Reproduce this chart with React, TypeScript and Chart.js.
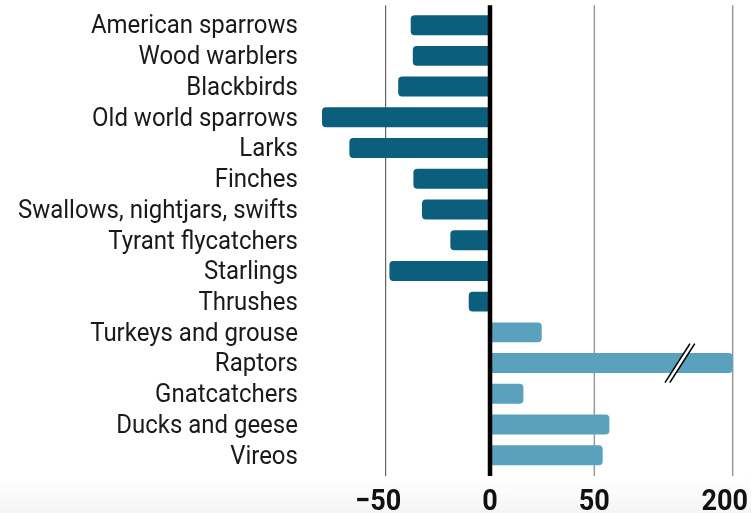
import React, { useEffect, useRef } from "react";
import { Chart, registerables } from "chart.js";

Chart.register(...registerables);

const CATEGORIES = [
  "American sparrows",
  "Wood warblers",
  "Blackbirds",
  "Old world sparrows",
  "Larks",
  "Finches",
  "Swallows, nightjars, swifts",
  "Tyrant flycatchers",
  "Starlings",
  "Thrushes",
  "Turkeys and grouse",
  "Raptors",
  "Gnatcatchers",
  "Ducks and geese",
  "Vireos",
];

const VALUES = [-38, -37, -44, -80.5, -67.4, -36.7, -32.6, -19, -48.2, -10.2, 24.8, 200, 16, 57.2, 54];

const TICK_VALUES = [-50, 0, 50, 200];
const TICK_LABELS = ["\u221250", "0", "50", "200"];

// broken axis: values above BREAK_REAL are compressed so that AXIS_TOP_REAL sits at AXIS_TOP_DISPLAY
const BREAK_REAL = 100;
const AXIS_TOP_REAL = 200;
const AXIS_TOP_DISPLAY = 116.3;
const BREAK_MARK_AT = 91;
const BREAK_CATEGORY = "Raptors";

const NEG_COLOR = "#0b5e7c";
const POS_COLOR = "#59a1bd";

function toAxis(v: number): number {
  if (v <= BREAK_REAL) return v;
  return BREAK_REAL + ((v - BREAK_REAL) * (AXIS_TOP_DISPLAY - BREAK_REAL)) / (AXIS_TOP_REAL - BREAK_REAL);
}

const LABEL_FONT = "25.5px Roboto";
const TICK_FONT = "bold 30px Roboto";
const LABEL_CONDENSE = 0.94;
const TICK_CONDENSE = 0.9;

const decorPlugin = {
  id: "decor",
  beforeDatasetsDraw(chart: any) {
    const { ctx, chartArea, scales } = chart;
    const x = scales.x;
    const top = chartArea.top - 4.5;
    const bottom = chartArea.bottom + 5.5;
    ctx.save();
    TICK_VALUES.forEach((t) => {
      if (t === 0) return;
      const px = x.getPixelForValue(toAxis(t));
      ctx.beginPath();
      ctx.strokeStyle = t < 0 ? "#444444" : "#9a9a9a";
      ctx.lineWidth = t < 0 ? 1 : 1.5;
      ctx.moveTo(px, top);
      ctx.lineTo(px, bottom);
      ctx.stroke();
    });
    ctx.restore();
  },
  afterDatasetsDraw(chart: any) {
    const { ctx, chartArea, scales } = chart;
    const x = scales.x;
    const y = scales.y;
    const top = chartArea.top - 4.5;
    const bottom = chartArea.bottom + 5.5;
    ctx.save();
    // zero line
    const zx = x.getPixelForValue(0);
    ctx.beginPath();
    ctx.strokeStyle = "#000000";
    ctx.lineWidth = 4.5;
    ctx.moveTo(zx, top);
    ctx.lineTo(zx, bottom);
    ctx.stroke();

    // break mark
    const bi = CATEGORIES.indexOf(BREAK_CATEGORY);
    const bx = x.getPixelForValue(BREAK_MARK_AT);
    const by = y.getPixelForValue(bi);
    const dx = 12.5;
    const dy = 19.5;
    const gap = 2.4;
    ctx.beginPath();
    ctx.fillStyle = "#ffffff";
    ctx.moveTo(bx - dx - gap, by + dy);
    ctx.lineTo(bx + dx - gap, by - dy);
    ctx.lineTo(bx + dx + gap, by - dy);
    ctx.lineTo(bx - dx + gap, by + dy);
    ctx.closePath();
    ctx.fill();
    ctx.strokeStyle = "#000000";
    ctx.lineWidth = 1.6;
    [-gap, gap].forEach((g) => {
      ctx.beginPath();
      ctx.moveTo(bx - dx + g, by + dy);
      ctx.lineTo(bx + dx + g, by - dy);
      ctx.stroke();
    });

    // category labels (condensed)
    ctx.fillStyle = "#1a1a1a";
    ctx.font = LABEL_FONT;
    ctx.textAlign = "right";
    ctx.textBaseline = "alphabetic";
    const labelRight = chartArea.left - 21;
    CATEGORIES.forEach((c, i) => {
      const py = y.getPixelForValue(i);
      ctx.save();
      ctx.translate(labelRight, py + 8.3);
      ctx.scale(LABEL_CONDENSE, 1);
      ctx.fillText(c, 0, 0);
      ctx.restore();
    });

    // x tick labels
    ctx.fillStyle = "#111111";
    ctx.font = TICK_FONT;
    ctx.textAlign = "left";
    const baseline = chartArea.bottom + 39.3;
    TICK_VALUES.forEach((t, i) => {
      const label = TICK_LABELS[i];
      const px = x.getPixelForValue(toAxis(t));
      const digits = label.replace("\u2212", "");
      const wDigits = ctx.measureText(digits).width * TICK_CONDENSE;
      const wAll = ctx.measureText(label).width * TICK_CONDENSE;
      let left = px + wDigits / 2 - wAll;
      const maxRight = chart.width - 3;
      if (left + wAll > maxRight) left = maxRight - wAll;
      ctx.save();
      ctx.translate(left, baseline);
      ctx.scale(TICK_CONDENSE, 1);
      ctx.fillText(label, 0, 0);
      ctx.restore();
    });
    ctx.restore();
  },
};

export default function App() {
  const canvasRef = useRef<HTMLCanvasElement | null>(null);

  useEffect(() => {
    const canvas = canvasRef.current;
    if (!canvas) return;
    const chart = new Chart(canvas, {
      type: "bar",
      data: {
        labels: CATEGORIES,
        datasets: [
          {
            data: VALUES.map(toAxis),
            backgroundColor: VALUES.map((v) => (v < 0 ? NEG_COLOR : POS_COLOR)),
            barPercentage: 0.65,
            categoryPercentage: 1,
            borderRadius: 4,
            borderSkipped: "start",
          },
        ],
      },
      options: {
        indexAxis: "y",
        responsive: false,
        animation: false,
        devicePixelRatio: 1,
        layout: { padding: { left: 318.9, right: 17.9, top: 9.8, bottom: 42.4 } },
        scales: {
          x: { type: "linear", min: -82, max: 116.5, display: false },
          y: { display: false },
        },
        plugins: {
          legend: { display: false },
          tooltip: { enabled: false },
        },
      },
      plugins: [decorPlugin],
    });
    return () => chart.destroy();
  }, []);

  return (
    <div
      style={{
        position: "absolute",
        left: 0,
        top: 0,
        width: 751,
        height: 513,
        background: "linear-gradient(to bottom, #ffffff 0px, #ffffff 476px, #f5f5f5 513px)",
      }}
    >
      <canvas ref={canvasRef} width={751} height={513} style={{ display: "block", width: 751, height: 513 }} />
    </div>
  );
}
